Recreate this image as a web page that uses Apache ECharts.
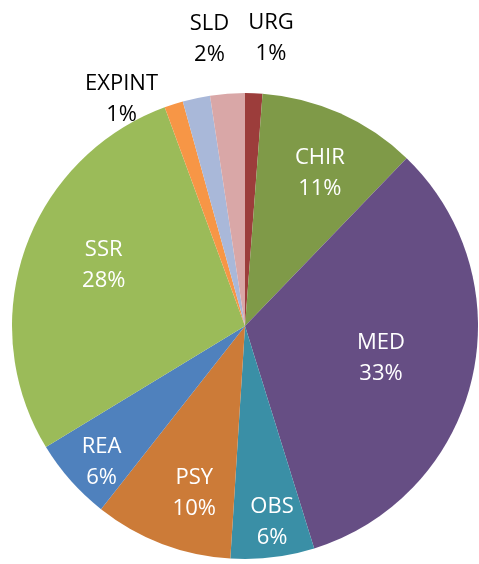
<!DOCTYPE html>
<html>
<head>
<meta charset="utf-8">
<script src="https://cdn.jsdelivr.net/npm/echarts@6/dist/echarts.min.js"></script>
<style>
html,body{margin:0;padding:0;background:#fff;}
#chart{width:479px;height:564px;}
</style>
</head>
<body>
<div id="chart"></div>
<script>
// Data (clockwise from 12 o'clock)
const categories = ["URG", "CHIR", "MED", "OBS", "PSY", "REA", "SSR", "EXPINT", "SLD", "AUTRE"];
const values     = [1.2, 11.0, 33.0, 5.8, 9.6, 5.7, 28.1, 1.3, 1.9, 2.4];
const showLabel  = [true, true, true, true, true, true, true, true, true, false];

// Styling / layout (not data)
const colors = ["#9C3D3B", "#7F9A48", "#664E84", "#3A8FA6", "#CC7B38", "#4F81BD", "#9BBB59", "#F79646", "#A9B8D9", "#D9A7A7"];
const labelColors = ["#000", "#fff", "#fff", "#fff", "#fff", "#fff", "#fff", "#000", "#000", "#000"];
// [radius factor, angle shift in degrees] for each label
const labelPlace = [[1.24, 3], [0.73, 2], [0.60, 0], [0.85, -1], [0.75, -4], [0.85, -2], [0.66, 4], [1.11, -10.7], [1.24, 5], [1, 0]];
const CX = 245, CY = 326, R = 233;

const total = values.reduce((a, b) => a + b, 0);
const midAngles = [];
let acc = 0;
values.forEach(v => { midAngles.push((acc + v / 2) / total * 360); acc += v; });

const chart = echarts.init(document.getElementById('chart'), null, {renderer: 'canvas'});
chart.setOption({
  backgroundColor: '#fff',
  animation: false,
  series: [{
    type: 'pie',
    center: [CX, CY],
    radius: R,
    startAngle: 90,
    clockwise: true,
    avoidLabelOverlap: false,
    label: {
      show: true,
      position: 'inside',
      fontFamily: 'Open Sans',
      fontSize: 22,
      lineHeight: 31,
      formatter: p => p.name + '\n' + Math.round(p.value / total * 100) + '%'
    },
    labelLine: {show: false},
    emphasis: {disabled: true},
    labelLayout: function (params) {
      const i = params.dataIndex;
      const pl = labelPlace[i];
      const a = (midAngles[i] + pl[1]) * Math.PI / 180;
      return {
        x: CX + pl[0] * R * Math.sin(a),
        y: CY - pl[0] * R * Math.cos(a),
        align: 'center',
        verticalAlign: 'middle'
      };
    },
    data: categories.map((c, i) => ({
      name: c,
      value: values[i],
      itemStyle: {color: colors[i]},
      label: {show: showLabel[i], color: labelColors[i]}
    }))
  }]
});
</script>
</body>
</html>
